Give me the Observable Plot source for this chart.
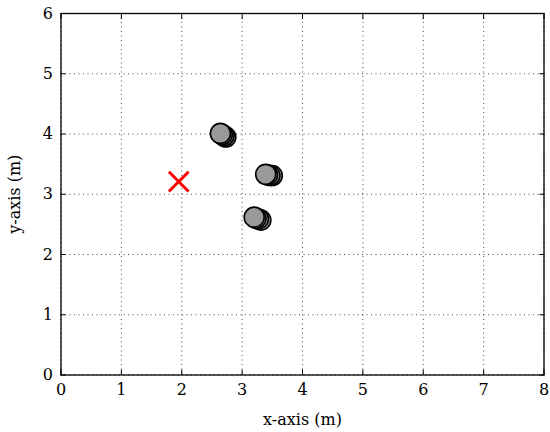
<!DOCTYPE html>
<html><head><meta charset="utf-8">
<script src="https://cdn.jsdelivr.net/npm/d3@7"></script>
<script src="https://cdn.jsdelivr.net/npm/@observablehq/plot@0.6"></script>
<style>
body{margin:0;background:#fff;}
svg text{font-family:"DejaVu Serif","Liberation Serif",serif !important; font-size:16px !important;}
</style></head>
<body><div id="chart"></div>
<script>
const xTicks = [0,1,2,3,4,5,6,7,8];
const yTicks = [0,1,2,3,4,5,6];
const ptX = [2.64,2.67,2.70,2.73, 3.39,3.42,3.46,3.50, 3.20,3.23,3.27,3.31];
const ptY = [4.01,3.99,3.97,3.95, 3.33,3.32,3.31,3.31, 2.62,2.60,2.59,2.57];
const markX = [1.95];
const markY = [3.21];

const pts = ptX.map((x,i)=>({x, y: ptY[i], i})).reverse();
const cross = markX.map((x,i)=>({x, y: markY[i]}));
const fmt = d => String(d);

const chart = Plot.plot({
  width: 550, height: 432,
  marginLeft: 60.5, marginRight: 6.5, marginTop: 13, marginBottom: 57.5,
  style: {fontFamily: "DejaVu Serif, serif", fontSize: "16px", color: "#000", background: "#fff"},
  x: {domain: [0,8], ticks: xTicks},
  y: {domain: [0,6], ticks: yTicks},
  marks: [
    Plot.gridX(xTicks, {stroke: "#000", strokeOpacity: 0.7, strokeDasharray: "1,3.5", strokeWidth: 1}),
    Plot.gridY(yTicks, {stroke: "#000", strokeOpacity: 0.7, strokeDasharray: "1,3.5", strokeWidth: 1}),
    Plot.axisX(xTicks, {anchor: "bottom", tickSize: -5, tickPadding: 14, tickFormat: fmt, label: "x-axis (m)", labelAnchor: "center", labelOffset: 50, labelArrow: "none"}),
    Plot.axisX(xTicks, {anchor: "top", tickSize: -5, text: null, label: null}),
    Plot.axisY(yTicks, {anchor: "left", tickSize: -5, tickPadding: 13, tickFormat: fmt, label: "y-axis (m)", labelAnchor: "center", labelOffset: 52, labelArrow: "none"}),
    Plot.axisY(yTicks, {anchor: "right", tickSize: -5, text: null, label: null}),
    Plot.frame({stroke: "#000", strokeWidth: 1.3}),
    Plot.dot(pts, {x: "x", y: "y", r: 10, fill: "#999999", stroke: "#000", strokeWidth: 1.6}),
    Plot.dot(cross, {x: "x", y: "y", symbol: "times", r: 9, stroke: "#ff0000", strokeWidth: 3})
  ]
});
document.getElementById("chart").appendChild(chart);
</script></body></html>
